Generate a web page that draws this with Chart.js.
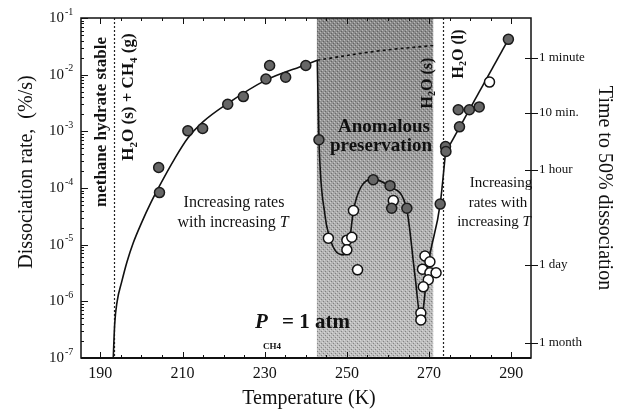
<!DOCTYPE html>
<html>
<head>
<meta charset="utf-8">
<script src="https://cdn.jsdelivr.net/npm/chart.js@4.4.1/dist/chart.umd.min.js"></script>
<style>
html, body { margin: 0; padding: 0; background: #fff; }
canvas { display: block; }
</style>
</head>
<body>
<canvas id="c" width="626" height="410"></canvas>
<script>
// values: temperature in K, dissociation rate in %/s

// smooth fit through the low-temperature data
const fitT = [193.15, 193.5, 194.1, 195.2, 196.5, 198.0, 200.0, 202.3, 204.5, 208.0, 211.3, 214.9, 221.0, 230.3, 240.0, 242.8];
const fitRate = [1e-7, 4e-7, 1e-6, 2.2e-6, 5e-6, 1.07e-5, 2.4e-5, 5.5e-5, 1.12e-4, 3.2e-4, 7.6e-4, 1.45e-3, 3.1e-3, 8.0e-3, 1.5e-2, 1.8e-2];

// dotted extrapolation across the anomalous zone
const extraT = [242.8, 257.3, 271.5];
const extraRate = [1.8e-2, 2.6e-2, 3.3e-2];

// curve through the anomalous preservation zone
const anomT = [242.8, 243.2, 244.7, 245.5, 247.1, 249.1, 250.5, 251.6, 253.3, 256.2, 260.5, 264.5, 266.6, 268.0, 269.8, 272.7, 274.0];
const anomRate = [1.8e-2, 7.1e-4, 3.2e-5, 1.6e-5, 8e-6, 6.6e-6, 1.0e-5, 4e-5, 1.0e-4, 1.45e-4, 1.05e-4, 4.4e-5, 2.7e-6, 4.7e-7, 4.7e-6, 5.2e-5, 4.2e-4];

// straight line above melting
const meltT = [274.0, 289.3];
const meltRate = [4.2e-4, 4.2e-2];

// filled symbols
const filledT = [204.4, 204.2, 211.3, 214.9, 221.0, 224.8, 230.3, 231.2, 235.1, 240.0, 243.2, 256.4, 260.5, 260.9, 264.6, 272.7, 274.0, 274.1, 277.4, 277.1, 279.8, 282.2, 289.3];
const filledRate = [8.3e-5, 2.3e-4, 1.02e-3, 1.12e-3, 3.0e-3, 4.1e-3, 8.4e-3, 1.45e-2, 9e-3, 1.45e-2, 7.1e-4, 1.4e-4, 1.1e-4, 4.4e-5, 4.4e-5, 5.2e-5, 5.4e-4, 4.4e-4, 1.2e-3, 2.4e-3, 2.4e-3, 2.7e-3, 4.2e-2];

// open symbols
const openT = [245.5, 250.0, 251.2, 250.0, 251.6, 252.6, 261.3, 269.0, 270.2, 268.4, 270.2, 271.7, 269.8, 268.6, 268.0, 268.0, 284.7];
const openRate = [1.3e-5, 1.2e-5, 1.35e-5, 8.1e-6, 4e-5, 3.6e-6, 6e-5, 6.3e-6, 5e-6, 3.7e-6, 3.2e-6, 3.2e-6, 2.4e-6, 1.8e-6, 6.2e-7, 4.7e-7, 7.4e-3];

// axes
const xLabels = [190, 210, 230, 250, 270, 290];
const yExponents = [-1, -2, -3, -4, -5, -6, -7];
const timeLabels = ["1 minute", "10 min.", "1 hour", "1 day", "1 month"];
const timeRates = [1.97e-2, 2.11e-3, 2.08e-4, 4.38e-6, 1.84e-7];

// marked temperatures
const shadeFrom = 242.7, shadeTo = 271.0;
const lineCH4 = 193.3, lineIce = 273.3;

const SERIF = '"Liberation Serif", "DejaVu Serif", serif';

function pts(xs, ys) {
    return xs.map((x, i) => ({ x: x, y: ys[i] }));
}

function textRuns(ctx, parts, cx, cy, angle, align) {
    ctx.save();
    ctx.translate(cx, cy);
    ctx.rotate(angle || 0);
    let w = 0;
    parts.forEach((p) => {
        ctx.font = p.f;
        p.w = ctx.measureText(p.t).width;
        w += p.w;
    });
    let x = align === "left" ? 0 : align === "right" ? -w : -w / 2;
    ctx.textBaseline = "middle";
    ctx.textAlign = "left";
    parts.forEach((p) => {
        ctx.font = p.f;
        ctx.fillText(p.t, x, p.dy || 0);
        x += p.w;
    });
    ctx.restore();
}

const backdrop = {
    id: "backdrop",
    beforeDatasetsDraw(chart) {
        const { ctx, chartArea: a, scales } = chart;
        const x0 = scales.x.getPixelForValue(shadeFrom);
        const x1 = scales.x.getPixelForValue(shadeTo);
        ctx.save();
        const g = ctx.createLinearGradient(0, a.top, 0, a.bottom);
        g.addColorStop(0, "#8a8a8a");
        g.addColorStop(0.35, "#9a9a9a");
        g.addColorStop(0.6, "#b0b0b0");
        g.addColorStop(1, "#c0c0c0");
        ctx.fillStyle = g;
        ctx.fillRect(x0, a.top, x1 - x0, a.bottom - a.top);
        // stipple texture
        const tile = document.createElement("canvas");
        tile.width = 4; tile.height = 4;
        const tc = tile.getContext("2d");
        tc.fillStyle = "rgba(255,255,255,0.4)";
        tc.fillRect(0, 0, 1, 1); tc.fillRect(2, 2, 1, 1);
        tc.fillStyle = "rgba(0,0,0,0.3)";
        tc.fillRect(1, 3, 1, 1); tc.fillRect(3, 1, 1, 1);
        ctx.fillStyle = ctx.createPattern(tile, "repeat");
        ctx.fillRect(x0, a.top, x1 - x0, a.bottom - a.top);

        ctx.strokeStyle = "#222";
        ctx.lineWidth = 1.2;
        ctx.setLineDash([2, 2]);
        [lineCH4, lineIce].forEach((t) => {
            const px = Math.round(scales.x.getPixelForValue(t)) + 0.5;
            ctx.beginPath();
            ctx.moveTo(px, a.top);
            ctx.lineTo(px, a.bottom);
            ctx.stroke();
        });
        ctx.restore();
    },
    afterDatasetsDraw(chart) {
        const { ctx, chartArea: a, scales } = chart;
        const xs = scales.x, ys = scales.y;
        ctx.save();
        ctx.strokeStyle = "#111";
        ctx.fillStyle = "#111";
        // frame
        ctx.lineWidth = 1.5;
        ctx.strokeRect(a.left, a.top, a.right - a.left, a.bottom - a.top);
        ctx.lineWidth = 2;
        ctx.beginPath();
        ctx.moveTo(a.left, a.bottom);
        ctx.lineTo(a.right, a.bottom);
        ctx.stroke();

        // x ticks, bottom and top, pointing inward
        ctx.lineWidth = 1;
        for (let t = 190; t <= 290; t += 5) {
            const px = Math.round(xs.getPixelForValue(t)) + 0.5;
            const len = xLabels.includes(t) ? 6 : 3;
            ctx.beginPath();
            ctx.moveTo(px, a.bottom);
            ctx.lineTo(px, a.bottom - len);
            ctx.moveTo(px, a.top);
            ctx.lineTo(px, a.top + len);
            ctx.stroke();
        }
        // y ticks on the left axis
        yExponents.forEach((e) => {
            for (let m = 1; m <= 9; m++) {
                if (e === -1 && m > 1) continue;
                const py = Math.round(ys.getPixelForValue(m * Math.pow(10, e))) + 0.5;
                const len = m === 1 ? 7 : 3;
                ctx.beginPath();
                ctx.moveTo(a.left, py);
                ctx.lineTo(a.left + len, py);
                ctx.stroke();
            }
        });
        // right axis time ticks, crossing the axis
        timeRates.forEach((r) => {
            const py = Math.round(ys.getPixelForValue(r)) + 0.5;
            ctx.beginPath();
            ctx.moveTo(a.right - 6, py);
            ctx.lineTo(a.right + 7, py);
            ctx.stroke();
        });

        // left tick labels 10^n
        yExponents.forEach((e) => {
            const py = ys.getPixelForValue(Math.pow(10, e));
            ctx.font = "15px " + SERIF;
            ctx.textAlign = "right";
            ctx.textBaseline = "middle";
            ctx.fillText("10", 64, py);
            ctx.font = "10px " + SERIF;
            ctx.textAlign = "left";
            ctx.fillText(String(e), 65, py - 6);
        });

        // axis titles
        textRuns(ctx, [{ t: "Dissociation rate,  (%/s)", f: "20px " + SERIF }], 27, 172, -Math.PI / 2);
        textRuns(ctx, [{ t: "Time to 50% dissociation", f: "20px " + SERIF }], 604, 188, Math.PI / 2);
        textRuns(ctx, [{ t: "Temperature (K)", f: "20px " + SERIF }], 309, 399, 0);

        // vertical phase labels
        const bold = (s) => "bold " + s + "px " + SERIF;
        textRuns(ctx, [{ t: "methane hydrate stable", f: bold(17) }], 102, 122, -Math.PI / 2);
        textRuns(ctx, [
            { t: "H", f: bold(17) }, { t: "2", f: bold(11), dy: 5 },
            { t: "O (s) + CH", f: bold(17) }, { t: "4", f: bold(11), dy: 5 },
            { t: " (g)", f: bold(17) }
        ], 129, 97, -Math.PI / 2);
        textRuns(ctx, [
            { t: "H", f: bold(16) }, { t: "2", f: bold(10), dy: 4 },
            { t: "O (s)", f: bold(16) }
        ], 428, 83, -Math.PI / 2);
        textRuns(ctx, [
            { t: "H", f: bold(16) }, { t: "2", f: bold(10), dy: 4 },
            { t: "O (l)", f: bold(16) }
        ], 459, 54, -Math.PI / 2);

        // annotations
        const reg = "16px " + SERIF;
        const ita = "italic 16px " + SERIF;
        textRuns(ctx, [{ t: "Increasing rates", f: reg }], 234, 203, 0);
        textRuns(ctx, [{ t: "with increasing ", f: reg }, { t: "T", f: ita }], 233, 223, 0);
        textRuns(ctx, [{ t: "Anomalous", f: bold(19) }], 384, 127, 0);
        textRuns(ctx, [{ t: "preservation", f: bold(19) }], 381, 146, 0);
        const r15 = "15px " + SERIF;
        textRuns(ctx, [{ t: "Increasing", f: r15 }], 501, 183, 0);
        textRuns(ctx, [{ t: "rates with", f: r15 }], 498, 203, 0);
        textRuns(ctx, [{ t: "increasing ", f: r15 }, { t: "T", f: "italic 15px " + SERIF }], 494, 222, 0);

        textRuns(ctx, [{ t: "P", f: "italic bold 21px " + SERIF }], 255, 323, 0, "left");
        textRuns(ctx, [{ t: "CH4", f: bold(9) }], 263, 347, 0, "left");
        textRuns(ctx, [{ t: "= 1 atm", f: bold(21) }], 282, 323, 0, "left");
        ctx.restore();
    }
};

new Chart(document.getElementById("c"), {
    type: "scatter",
    data: {
        datasets: [
            {
                label: "filled",
                data: pts(filledT, filledRate),
                pointRadius: 5,
                pointBackgroundColor: "#666666",
                pointBorderColor: "#1a1a1a",
                pointBorderWidth: 1.5,
                order: 0
            },
            {
                label: "open",
                data: pts(openT, openRate),
                pointRadius: 5,
                pointBackgroundColor: "#ffffff",
                pointBorderColor: "#111",
                pointBorderWidth: 1.5,
                order: 0
            },
            {
                label: "fit",
                data: pts(fitT, fitRate),
                showLine: true,
                pointRadius: 0,
                borderColor: "#111",
                borderWidth: 1.6,
                cubicInterpolationMode: "monotone",
                order: 1
            },
            {
                label: "extrapolation",
                data: pts(extraT, extraRate),
                showLine: true,
                pointRadius: 0,
                borderColor: "#111",
                borderWidth: 1.6,
                borderDash: [3, 3],
                tension: 0.4,
                order: 1
            },
            {
                label: "anomalous",
                data: pts(anomT, anomRate),
                showLine: true,
                pointRadius: 0,
                borderColor: "#111",
                borderWidth: 1.6,
                cubicInterpolationMode: "monotone",
                order: 1
            },
            {
                label: "melt",
                data: pts(meltT, meltRate),
                showLine: true,
                pointRadius: 0,
                borderColor: "#111",
                borderWidth: 1.6,
                order: 1
            }
        ]
    },
    options: {
        responsive: false,
        animation: false,
        events: [],
        layout: { padding: { top: 18, left: 0, right: 0, bottom: 0 } },
        plugins: { legend: { display: false }, tooltip: { enabled: false } },
        scales: {
            x: {
                type: "linear",
                min: 185.3,
                max: 294.8,
                grid: { display: false, drawTicks: false },
                border: { display: false },
                afterBuildTicks: (s) => { s.ticks = xLabels.map((v) => ({ value: v })); },
                afterFit: (s) => { s.height = 52; },
                ticks: {
                    padding: 6,
                    color: "#111",
                    font: { family: SERIF, size: 16 },
                    callback: (v) => String(v)
                }
            },
            y: {
                type: "logarithmic",
                min: 1e-7,
                max: 1e-1,
                grid: { display: false, drawTicks: false },
                border: { display: false },
                ticks: { display: false },
                afterFit: (s) => { s.width = 81; }
            },
            y2: {
                type: "logarithmic",
                position: "right",
                min: 1e-7,
                max: 1e-1,
                grid: { display: false, drawTicks: false },
                border: { display: false },
                afterBuildTicks: (s) => { s.ticks = timeRates.map((v) => ({ value: v })); },
                afterFit: (s) => { s.width = 95; },
                ticks: {
                    padding: 8,
                    color: "#111",
                    font: { family: SERIF, size: 13 },
                    callback: (v, i) => timeLabels[i]
                }
            }
        }
    },
    plugins: [backdrop]
});
</script>
</body>
</html>
